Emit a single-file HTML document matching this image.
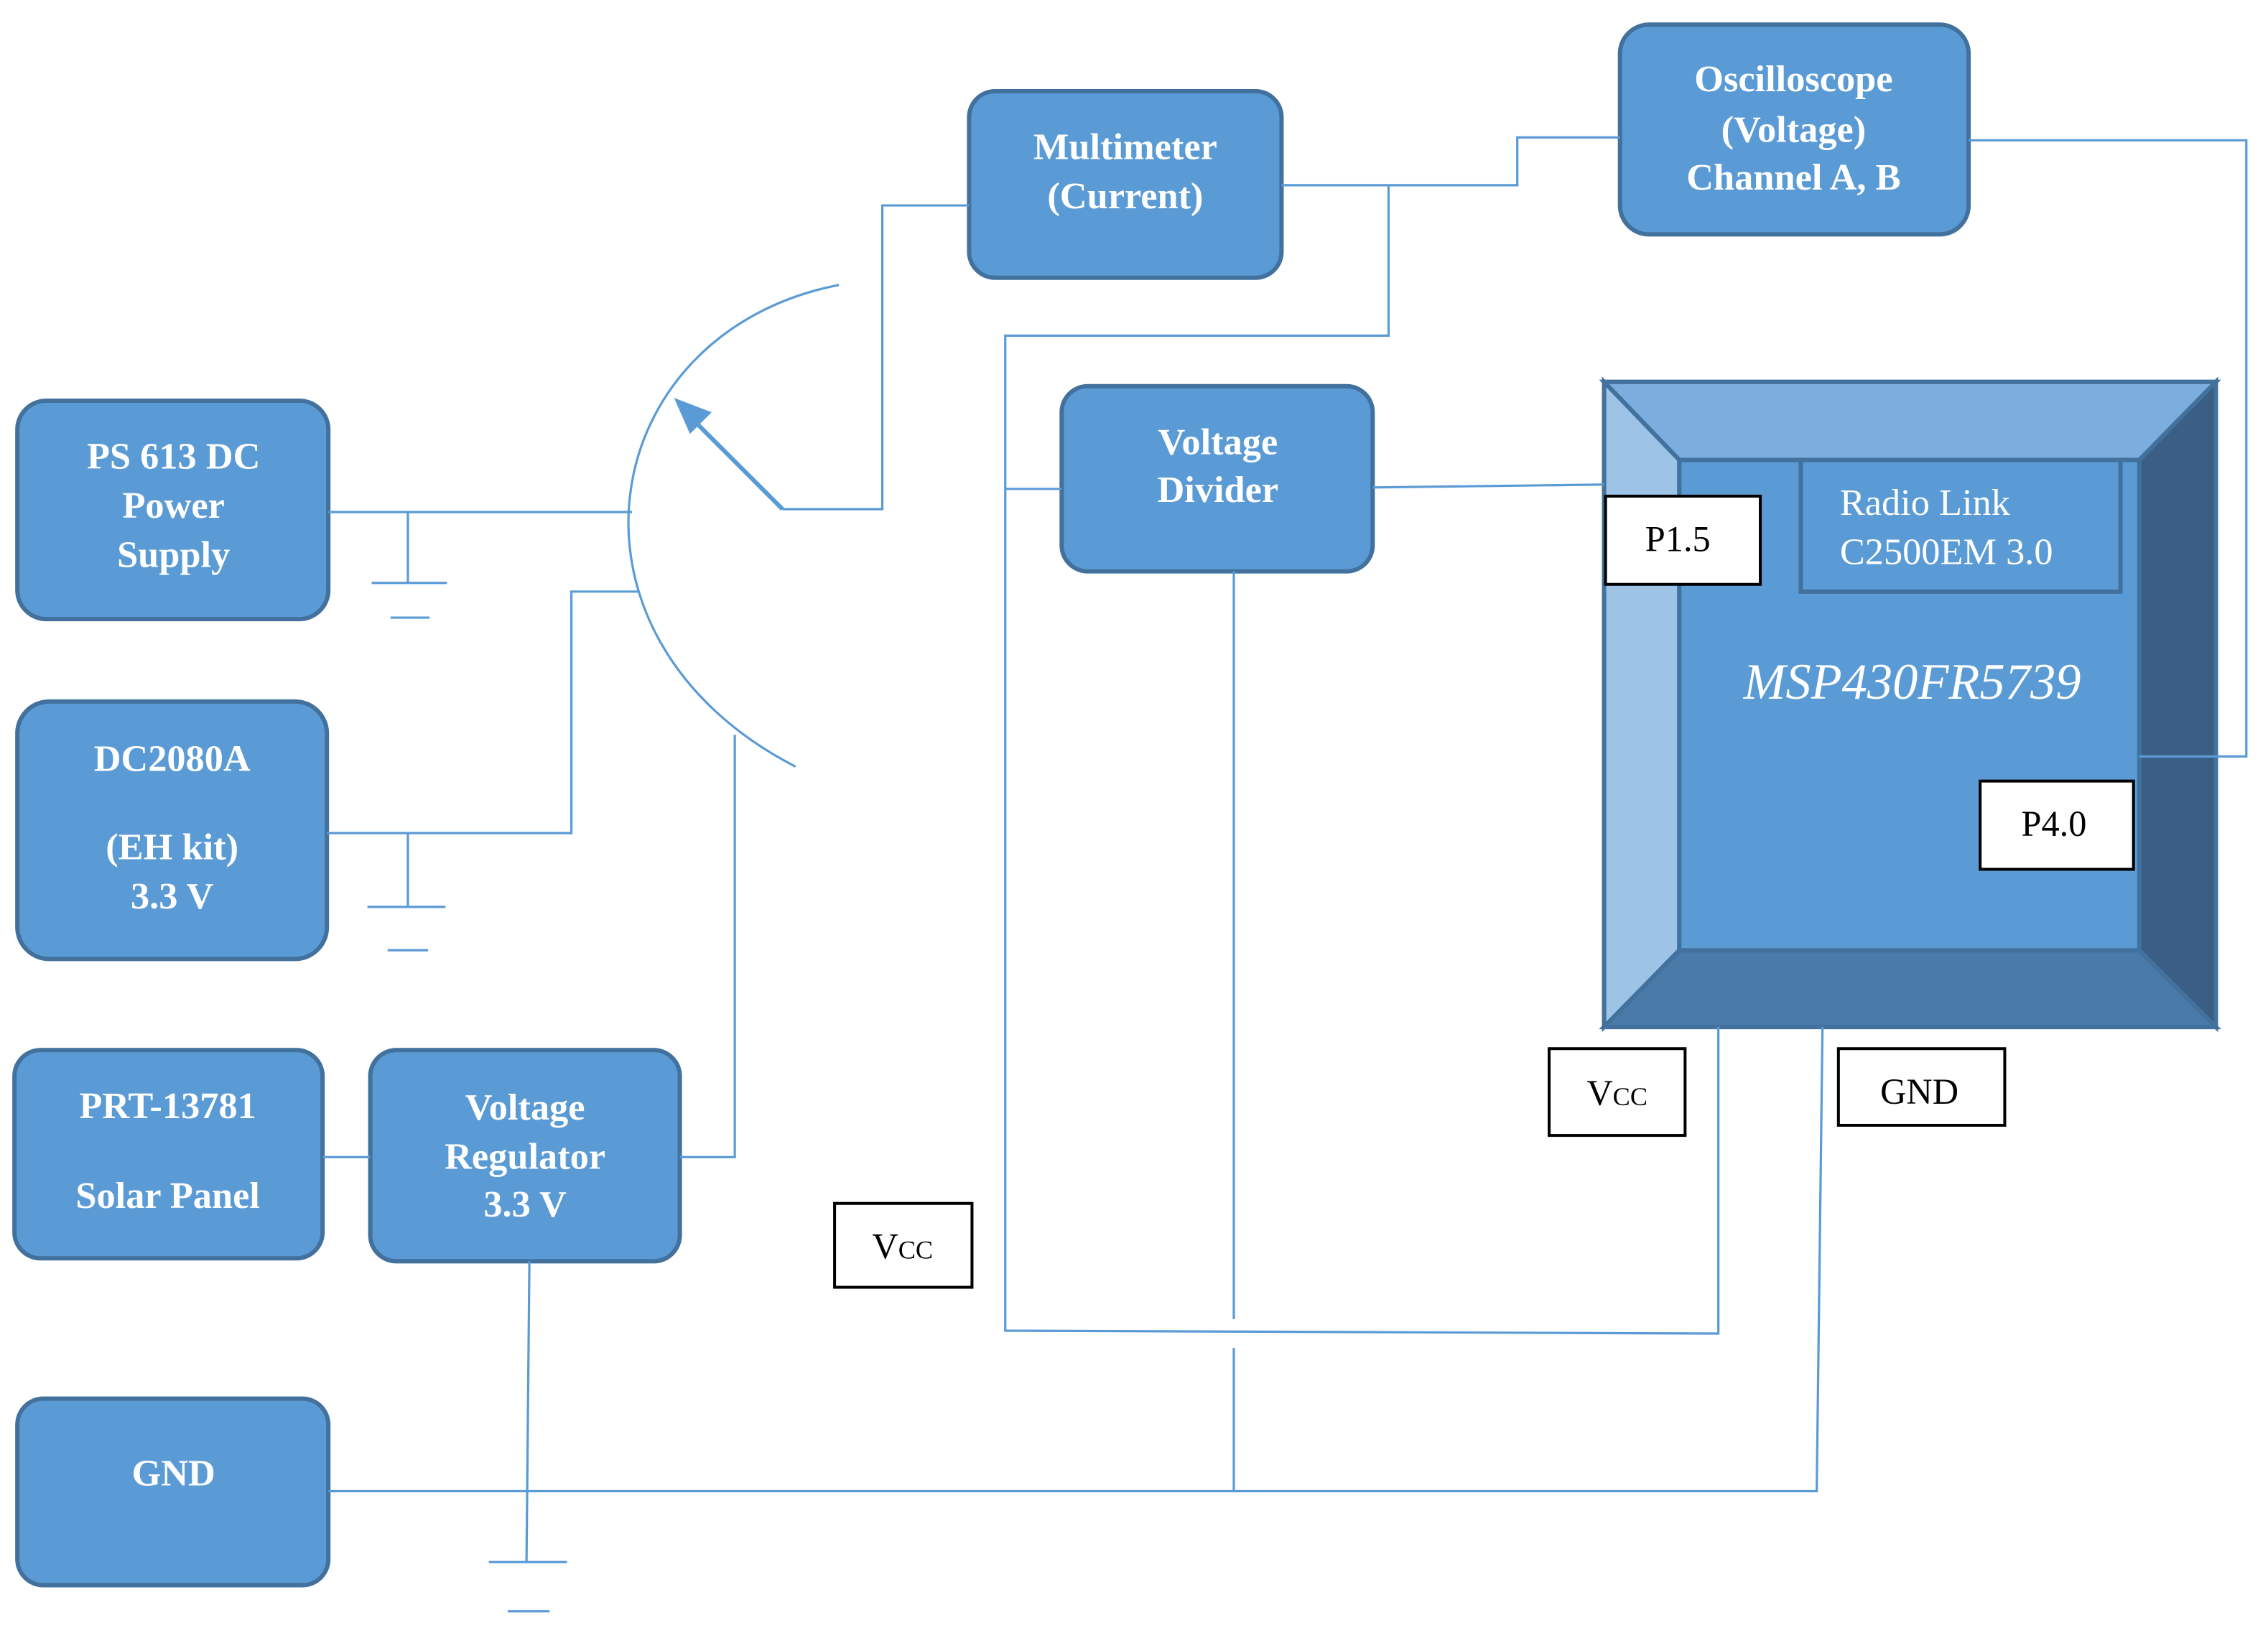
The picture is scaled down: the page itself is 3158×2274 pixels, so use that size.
<!DOCTYPE html>
<html><head><meta charset="utf-8"><style>html,body{margin:0;padding:0;background:#fff}svg{display:block}</style></head>
<body>
<svg width="3158" height="2274" viewBox="0 0 1568 1129" xmlns="http://www.w3.org/2000/svg" font-family="'Liberation Serif', serif">
<g fill="#5b9bd5" stroke="#41719c" stroke-width="3">
<rect x="12" y="277" width="215" height="151" rx="20"/>
<rect x="12" y="485" width="214" height="178" rx="22"/>
<rect x="10" y="726" width="213" height="144" rx="18"/>
<rect x="256" y="726" width="214" height="146" rx="18"/>
<rect x="12" y="967" width="215" height="129" rx="18"/>
<rect x="670" y="63" width="216" height="129" rx="18"/>
<rect x="1120" y="17" width="241" height="145" rx="20"/>
<rect x="734" y="267" width="215" height="128" rx="18"/>
</g>
<g stroke="#41719c" stroke-width="3">
<rect x="1109" y="264" width="423" height="446" fill="#5b9bd5"/>
<polygon points="1109,264 1532,264 1479,318 1161,318" fill="#7badde"/>
<polygon points="1109,264 1161,318 1161,657 1109,710" fill="#9dc3e6"/>
<polygon points="1532,264 1532,710 1479,657 1479,318" fill="#3a5e84"/>
<polygon points="1109,710 1161,657 1479,657 1532,710" fill="#4a7aa8"/>
<rect x="1161" y="318" width="318" height="339" fill="#5b9bd5"/>
<rect x="1245" y="318" width="221" height="91" fill="#5b9bd5"/>
</g>
<g fill="none" stroke="#5b9bd5" stroke-width="1.6">
<path d="M227,354H437M282,354V403M257,403H309M270,427H297"/>
<path d="M226,576H395V409H441M282,576V627M254,627H308M268,657H296"/>
<path d="M580,197C410,230 375,440 550,530"/>
<path d="M541,352H610V142H670"/>
<path d="M223,800H256M470,800H508V508"/>
<path d="M366,872L364,1080M338,1080H392M351,1114H380"/>
<path d="M227,1031H1256L1260,710"/>
<path d="M886,128H1049V95H1120M960,128V232H695V920L1188,922V710M695,338H734"/>
<path d="M949,337L1109,335M853,395V912M853,932V1031"/>
<path d="M1361,97H1553V523H1479"/>
</g>
<path d="M541,352L476,287" stroke="#5b9bd5" stroke-width="3"/>
<polygon points="466,275 492,285 477,300" fill="#5b9bd5"/>
<g fill="#fff" font-weight="bold" font-size="26" text-anchor="middle">
<text x="120" y="324">PS 613 DC</text><text x="120" y="358">Power</text><text x="120" y="392">Supply</text>
<text x="119" y="533">DC2080A</text><text x="119" y="594">(EH kit)</text><text x="119" y="628">3.3 V</text>
<text x="116" y="773">PRT-13781</text><text x="116" y="835">Solar Panel</text>
<text x="363" y="774">Voltage</text><text x="363" y="808">Regulator</text><text x="363" y="841">3.3 V</text>
<text x="120" y="1027">GND</text>
<text x="778" y="110">Multimeter</text><text x="778" y="144">(Current)</text>
<text x="1240" y="63">Oscilloscope</text><text x="1240" y="98">(Voltage)</text><text x="1240" y="131">Channel A, B</text>
<text x="842" y="314">Voltage</text><text x="842" y="347">Divider</text>
</g>
<g fill="#fff" stroke="#000" stroke-width="2">
<rect x="1110" y="343" width="107" height="61"/>
<rect x="1369" y="540" width="106" height="61"/>
<rect x="1071" y="725" width="94" height="60"/>
<rect x="577" y="832" width="95" height="58"/>
<rect x="1271" y="725" width="115" height="53"/>
</g>
<g fill="#fff" font-size="26">
<text x="1272" y="356">Radio Link</text><text x="1272" y="390">C2500EM 3.0</text>
<text x="1322" y="483" font-style="italic" font-size="35" text-anchor="middle">MSP430FR5739</text>
</g>
<g fill="#000" font-size="25" text-anchor="middle">
<text x="1160" y="381">P1.5</text>
<text x="1420" y="578">P4.0</text>
<text x="1118" y="764">V<tspan font-size="18">CC</tspan></text>
<text x="624" y="870">V<tspan font-size="18">CC</tspan></text>
<text x="1327" y="763">GND</text>
</g>
</svg>
</body></html>
